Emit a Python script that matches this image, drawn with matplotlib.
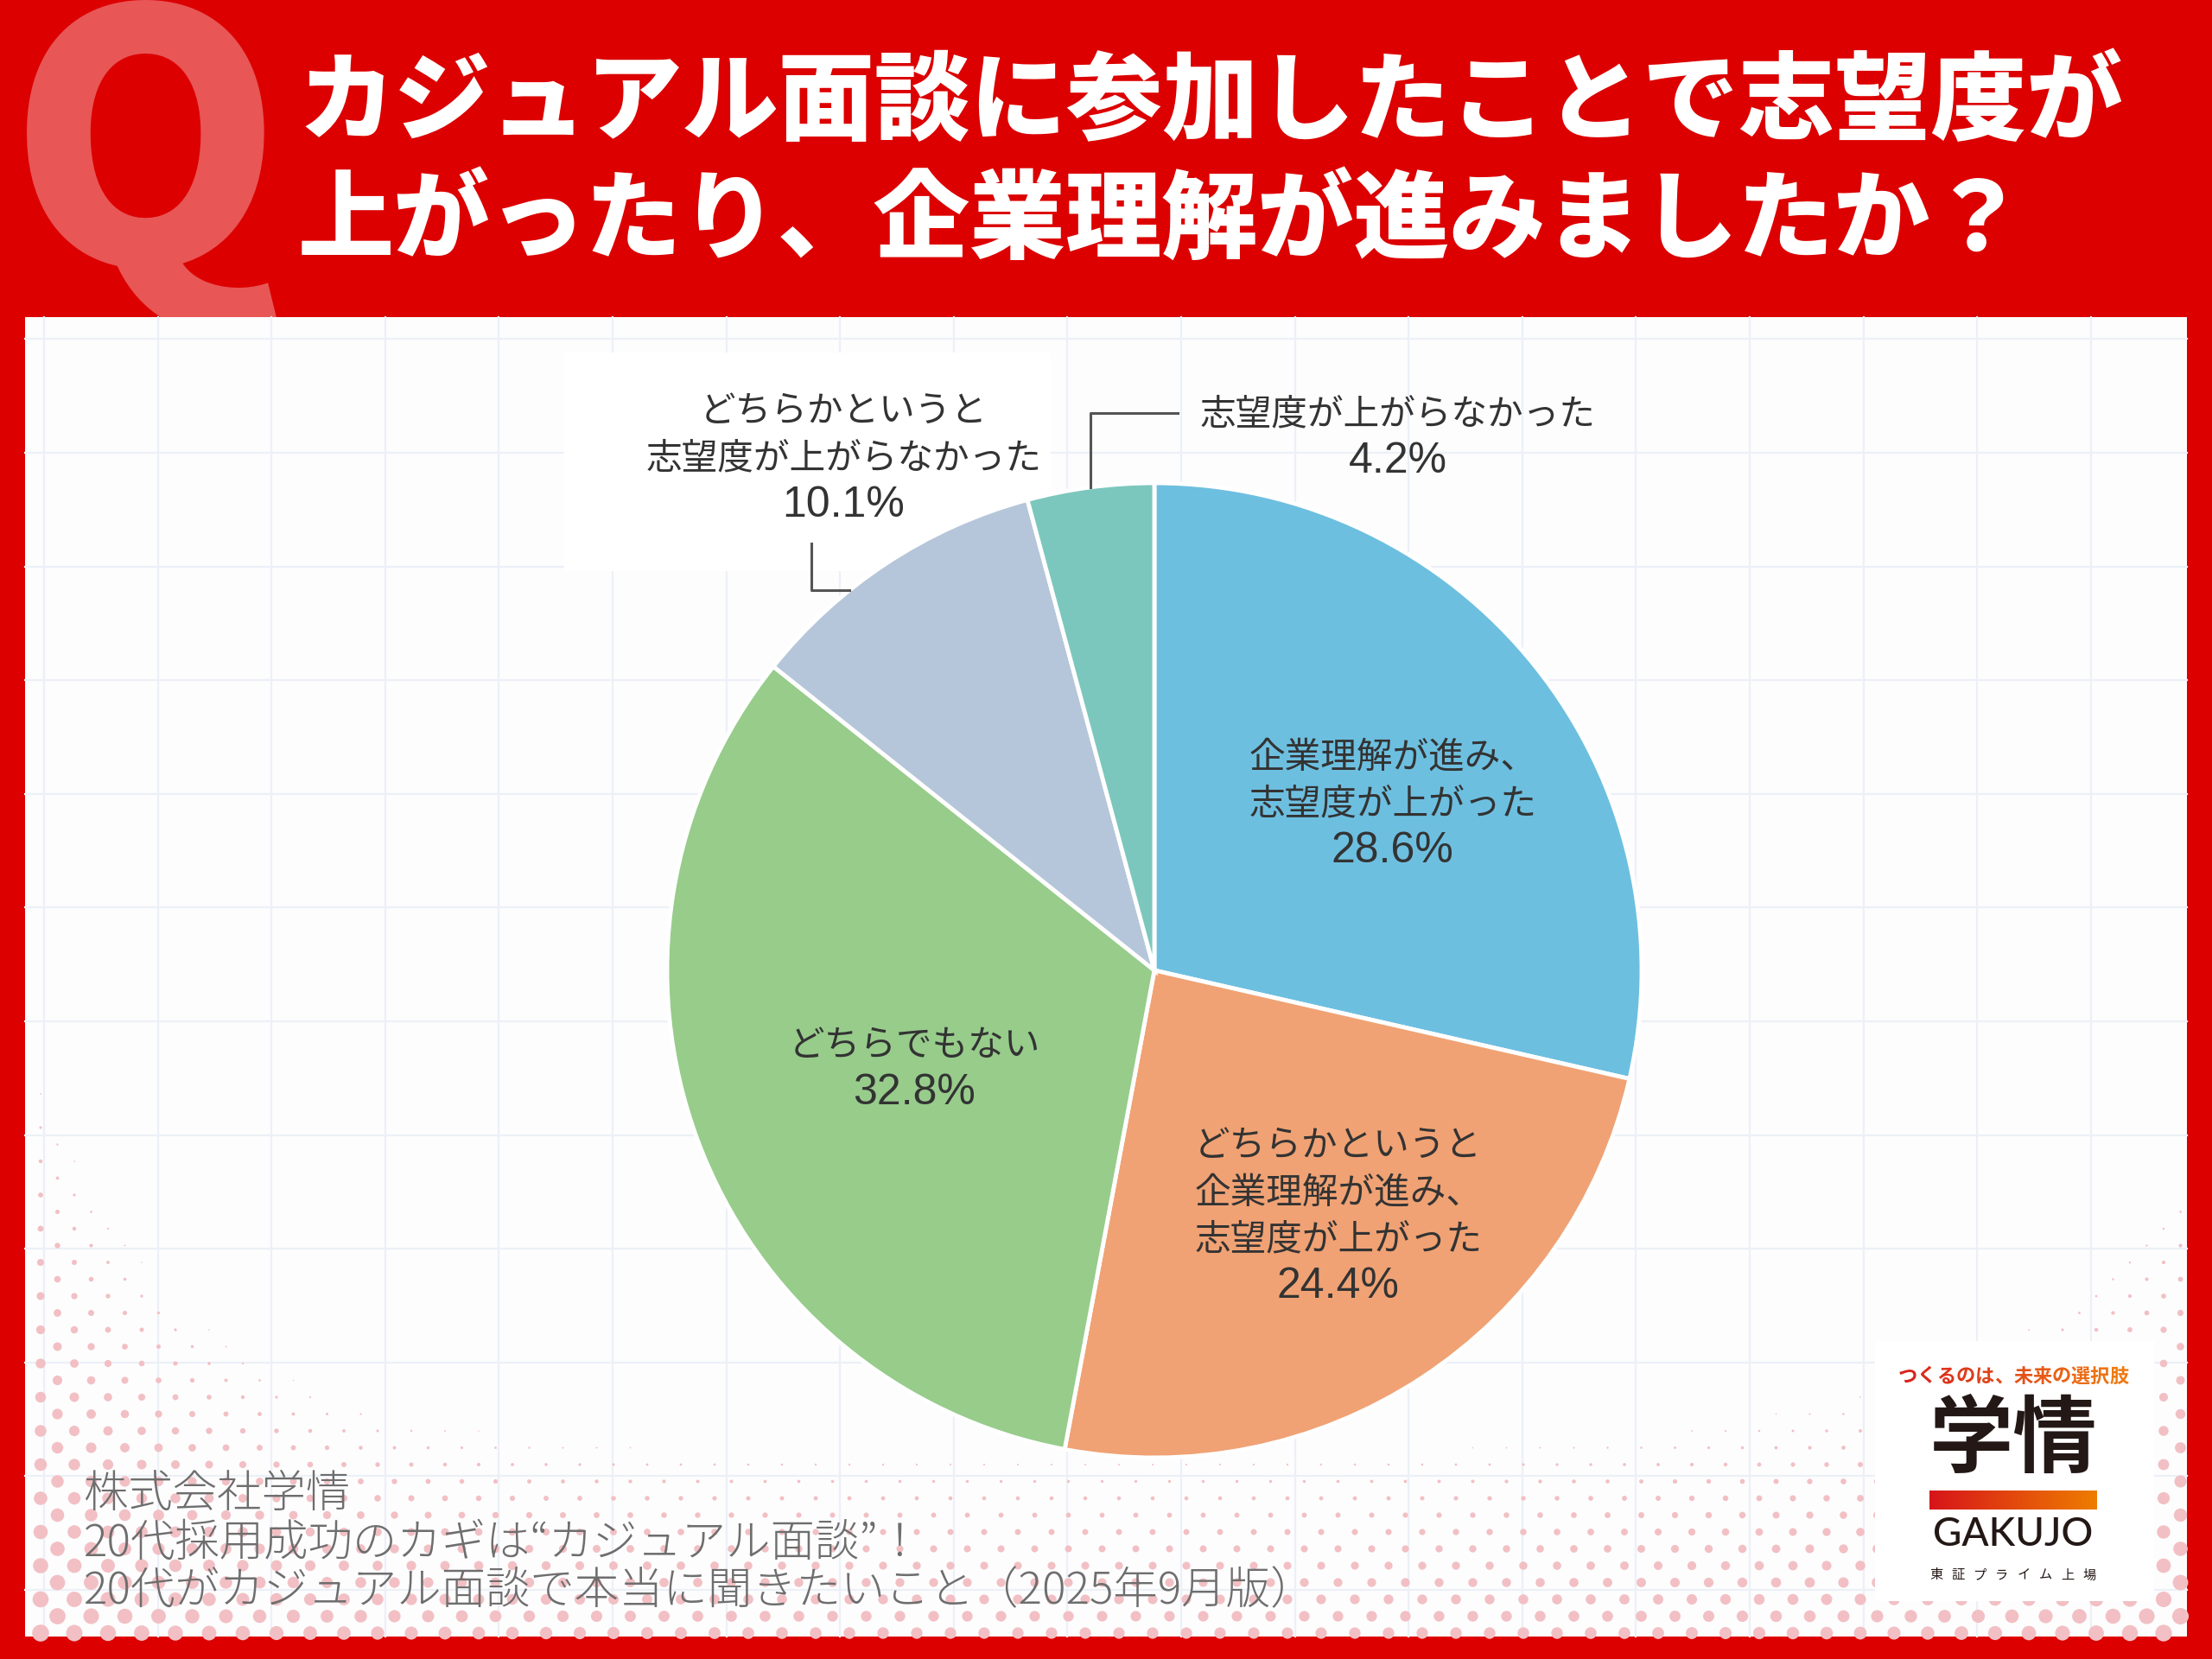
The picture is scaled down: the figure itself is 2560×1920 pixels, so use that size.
import numpy as np
import matplotlib
matplotlib.use('Agg')
import matplotlib.pyplot as plt
from matplotlib.patches import Rectangle
from matplotlib.colors import LinearSegmentedColormap, to_rgb

plt.rcParams['font.family'] = ['Noto Sans CJK JP', 'DejaVu Sans']

# ---- データ ----
categories = [
    '企業理解が進み、\n志望度が上がった',
    'どちらかというと\n企業理解が進み、\n志望度が上がった',
    'どちらでもない',
    'どちらかというと\n志望度が上がらなかった',
    '志望度が上がらなかった',
]
values = [28.6, 24.4, 32.8, 10.1, 4.2]
colors = ['#6DBFE0', '#F0A274', '#97CC8B', '#B6C6DA', '#7CC7BD']

title_lines = ['カジュアル面談に参加したことで志望度が',
               '上がったり、企業理解が進みましたか？']
source_lines = ['株式会社学情',
                '20代採用成功のカギは“カジュアル面談”！',
                '20代がカジュアル面談で本当に聞きたいこと（2025年9月版）']
logo_catch = 'つくるのは、未来の選択肢'
logo_name = '学情'
logo_roman = 'GAKUJO'
logo_sub = '東証プライム上場'

RED = '#DC0000'
W, H = 2560, 1920
fig = plt.figure(figsize=(25.6, 19.2), dpi=100, facecolor=RED)

# 背景用の軸（ピクセル座標）
bg = fig.add_axes([0, 0, 1, 1])
bg.set_xlim(0, W)
bg.set_ylim(H, 0)
bg.axis('off')
bg.set_facecolor('none')

# 大きな Q
bg.text(168, 305, 'Q', fontsize=290, fontweight='black', color='#E85656',
        ha='center', va='baseline', zorder=0.5)

# 白いパネル
px0, py0, px1, py1 = 29, 367, 2531, 1894
bg.add_patch(Rectangle((px0, py0), px1 - px0, py1 - py0, facecolor='#FDFDFE',
                       edgecolor='none', zorder=1))

# 方眼
step = 131.6
for x in np.arange(51, px1, step):
    bg.plot([x, x], [py0, py1], color='#ECF0F7', lw=1.6, zorder=1.1)
for y in np.concatenate([np.arange(1182, py0, -step), np.arange(1182 + step, py1, step)]):
    bg.plot([px0, px1], [y, y], color='#ECF0F7', lw=1.6, zorder=1.1)

# 網点の飾り
dx, dy = 39.0, 19.5
xs, ys, ds = [], [], []
row = 0
y = py1 - 4
while y > py0 + 300:
    off = 0 if row % 2 == 0 else dx / 2
    h = py1 - y
    for x in np.arange(px0 + 18 + off, px1, dx):
        lim = (230 + 480 * np.exp(-(x - 30) / 180) + 320 * np.exp(-(px1 - x) / 250)
               - 10 * np.exp(-((x - 1300) / 500) ** 2))
        t = 1 - h / lim
        if t <= 0:
            continue
        dmax = 13 + 7 * np.exp(-(x - 30) / 400) + 7 * np.exp(-(px1 - x) / 300)
        d = dmax * t ** 0.85
        if d > 1.5:
            xs.append(x); ys.append(y); ds.append(d)
    y -= dy
    row += 1
ds = np.array(ds) * 72 / 100
bg.scatter(xs, ys, s=ds ** 2, color='#F2C0C4', edgecolors='none', zorder=1.2)

# 10.1% ラベルの白地
bg.add_patch(Rectangle((653, 408), 563, 253, facecolor='white', edgecolor='none', zorder=1.3))

# タイトル
for i, line in enumerate(title_lines):
    bg.text(345, 120 + i * 138, line, fontsize=80, fontweight='black', color='white',
            ha='left', va='center', zorder=3)

# 出典
for i, line in enumerate(source_lines):
    bg.text(97, 1730 + i * 56, line, fontsize=37, fontweight='light', color='#6E6E6E',
            ha='left', va='center', zorder=3)

# ロゴ
bg.add_patch(Rectangle((2170, 1552), 323, 301, facecolor='white', edgecolor='none', zorder=2))
c0, c1 = np.array(to_rgb('#D8231D')), np.array(to_rgb('#EE7A12'))
for i, ch in enumerate(logo_catch):
    f = i / (len(logo_catch) - 1)
    bg.text(2208 + i * 22.2, 1593, ch, fontsize=16, fontweight='bold', color=c0 + (c1 - c0) * f,
            ha='center', va='center', zorder=3)
bg.text(2330, 1667, logo_name, fontsize=70, fontweight='bold', color='#231815',
        ha='center', va='center', zorder=3)
grad = LinearSegmentedColormap.from_list('g', ['#D7141A', '#EE7D00'])
bg.imshow(np.linspace(0, 1, 256).reshape(1, -1), cmap=grad, extent=[2233, 2427, 1747, 1725],
          aspect='auto', zorder=3)
bg.text(2330, 1776, logo_roman, fontsize=33, fontweight='medium', family='Lato', color='#231815',
        ha='center', va='center', zorder=3)
for i, ch in enumerate(logo_sub):
    bg.text(2241 + i * 25.3, 1823, ch, fontsize=11, color='#231815', ha='center', va='center', zorder=3)
bg.set_xlim(0, W)
bg.set_ylim(H, 0)

# ---- 円グラフ ----
cx, cy, R = 1336, 1123, 564
ax = fig.add_axes([(cx - R) / W, (H - cy - R) / H, 2 * R / W, 2 * R / H])
ax.set_facecolor('none')
wedges, _ = ax.pie(values, colors=colors, startangle=90, counterclock=False, radius=1,
                   wedgeprops=dict(edgecolor='white', linewidth=3.5))
ax.set_xlim(-1, 1)
ax.set_ylim(-1, 1)
ax.axis('off')

pitch = 54 / R   # 行送り（円の半径単位）


def put_label(x, y, text, value):
    lines = text.split('\n')
    n = len(lines) + 1
    top = y + (n - 1) / 2 * pitch
    for k, line in enumerate(lines):
        ax.text(x, top - k * pitch, line, fontsize=30, color='#333333', ha='center',
                va='center', fontweight='normal')
    ax.text(x, top - len(lines) * pitch, f'{value}%', fontsize=36, color='#333333',
            ha='center', va='center', family='Liberation Sans')


# 内側ラベル: 中心からの距離と角度のずらし
inner_pos = [(0.596, -3.7), (0.63, 3.5), (0.533, 2.1)]
for i, (r, dth) in enumerate(inner_pos):
    w = wedges[i]
    th = np.deg2rad((w.theta1 + w.theta2) / 2 + dth)
    put_label(r * np.cos(th), r * np.sin(th), categories[i], values[i])

# 外側ラベルと引き出し線
put_label(-0.638, 1.05, categories[3], values[3])
put_label(0.50, 1.092, categories[4], values[4])

w = wedges[3]
th = np.deg2rad(w.theta1 + 0.65 * (w.theta2 - w.theta1))
sx, sy = np.cos(th), np.sin(th)
ax.plot([sx, -0.704, -0.704], [sy, sy, 0.876], color='#555555', lw=2.2, clip_on=False)
w = wedges[4]
th = np.deg2rad((w.theta1 + w.theta2) / 2)
sx, sy = np.cos(th), np.sin(th)
ax.plot([sx, sx, 0.048], [sy, 1.144, 1.144], color='#555555', lw=2.2, clip_on=False)

fig.savefig('out.png', dpi=100, facecolor=RED)
